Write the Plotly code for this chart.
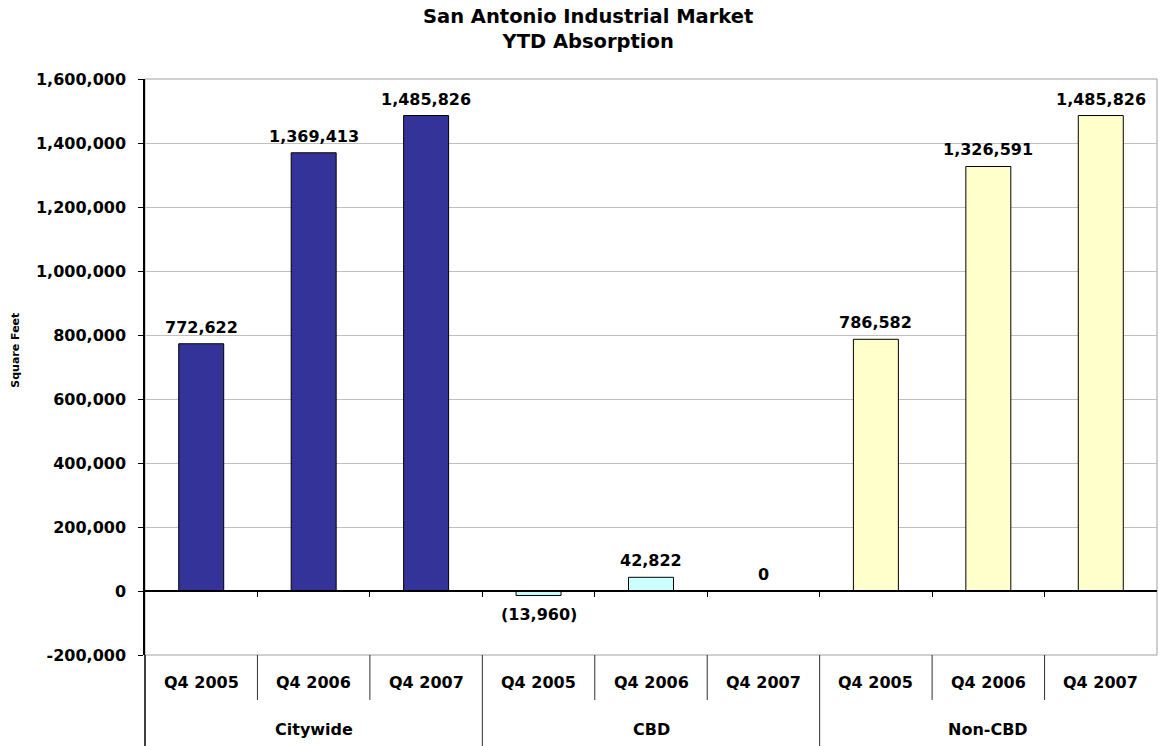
import plotly.graph_objects as go

groups = ["Citywide", "CBD", "Non-CBD"]
quarters = ["Q4 2005", "Q4 2006", "Q4 2007"]
citywide = [772622, 1369413, 1485826]
cbd = [-13960, 42822, 0]
noncbd = [786582, 1326591, 1485826]
series = [citywide, cbd, noncbd]
colors = ["#333399", "#CCFFFF", "#FFFFCC"]
ytick_vals = [-200000, 0, 200000, 400000, 600000, 800000, 1000000, 1200000, 1400000, 1600000]
ytick_text = ["-200,000", "0", "200,000", "400,000", "600,000", "800,000",
              "1,000,000", "1,200,000", "1,400,000", "1,600,000"]

FONT = "DejaVu Sans"
LABEL_FONT = dict(family=FONT, size=16, color="black", weight="bold")

def fmt(v):
    return f"({abs(v):,})" if v < 0 else f"{v:,}"

fig = go.Figure()
n_q = len(quarters)
annotations = []
for gi, (g, vals) in enumerate(zip(groups, series)):
    xs = [gi * n_q + qi for qi in range(n_q)]
    fig.add_trace(go.Bar(
        x=xs, y=vals, name=g, width=0.4,
        marker=dict(color=colors[gi], line=dict(color="black", width=1)),
        showlegend=False, hoverinfo="x+y",
    ))
    for x, v in zip(xs, vals):
        if v < 0:
            annotations.append(dict(x=x, y=v, xref="x", yref="y", text=fmt(v), showarrow=False,
                                    xanchor="center", yanchor="top", yshift=-8, font=LABEL_FONT))
        else:
            annotations.append(dict(x=x, y=v, xref="x", yref="y", text=fmt(v), showarrow=False,
                                    xanchor="center", yanchor="bottom", yshift=5, font=LABEL_FONT))

n_cat = len(groups) * n_q
shapes = []
# plot frame
shapes.append(dict(type="rect", xref="paper", yref="paper", x0=0, x1=1, y0=0, y1=1,
                   line=dict(color="#A0A0A0", width=1), layer="below"))
# category dividers
for k in range(1, n_cat):
    bottom = -0.165 if k % n_q == 0 else -0.078
    shapes.append(dict(type="line", xref="paper", yref="paper", x0=k / n_cat, x1=k / n_cat,
                       y0=0, y1=bottom, line=dict(color="#303030", width=1)))
# left axis extension
shapes.append(dict(type="line", xref="paper", yref="paper", x0=0, x1=0, y0=0, y1=-0.165,
                   line=dict(color="black", width=1.5)))

for gi, g in enumerate(groups):
    for qi, q in enumerate(quarters):
        annotations.append(dict(x=gi * n_q + qi, xref="x", y=-0.047, yref="paper", text=q,
                                showarrow=False, xanchor="center", yanchor="middle",
                                font=LABEL_FONT))
    annotations.append(dict(x=gi * n_q + 1, xref="x", y=-0.130, yref="paper", text=g,
                            showarrow=False, xanchor="center", yanchor="middle",
                            font=LABEL_FONT))
annotations.append(dict(x=-0.1275, xref="paper", y=0.53, yref="paper", text="Square Feet",
                        textangle=-90, showarrow=False, xanchor="center", yanchor="middle",
                        font=dict(family=FONT, size=11, color="black", weight="bold")))
annotations.append(dict(x=0.4378, xref="paper", y=1.0868, yref="paper",
                        text="San Antonio Industrial Market<br>YTD Absorption",
                        showarrow=False, xanchor="center", yanchor="middle",
                        font=dict(family=FONT, size=19.5, color="black", weight="bold")))

fig.update_layout(
    width=1159, height=746,
    margin=dict(l=145, r=2, t=79, b=91),
    paper_bgcolor="white", plot_bgcolor="white",
    font=dict(family=FONT, size=16, color="black", weight="bold"),
    xaxis=dict(range=[-0.5, n_cat - 0.5], anchor="free",
               position=200000 / 1800000,
               showline=True, linecolor="black", linewidth=2,
               ticks="outside", tickvals=[k + 0.5 for k in range(n_cat - 1)],
               ticklen=5, tickcolor="black", tickwidth=1,
               showticklabels=False, showgrid=False, zeroline=False),
    yaxis=dict(range=[-200000, 1600000], tickvals=ytick_vals, ticktext=ytick_text,
               ticks="outside", ticklen=5, tickcolor="black", tickwidth=1,
               showline=True, linecolor="black", linewidth=1.5,
               showgrid=True, gridcolor="#C0C0C0", gridwidth=1,
               zeroline=False, ticklabelstandoff=9,
               tickfont=LABEL_FONT),
    shapes=shapes, annotations=annotations,
    bargap=0.6,
)

fig.write_html("out.html", config={"displayModeBar": False},
               post_script="document.body.style.margin='0';")
